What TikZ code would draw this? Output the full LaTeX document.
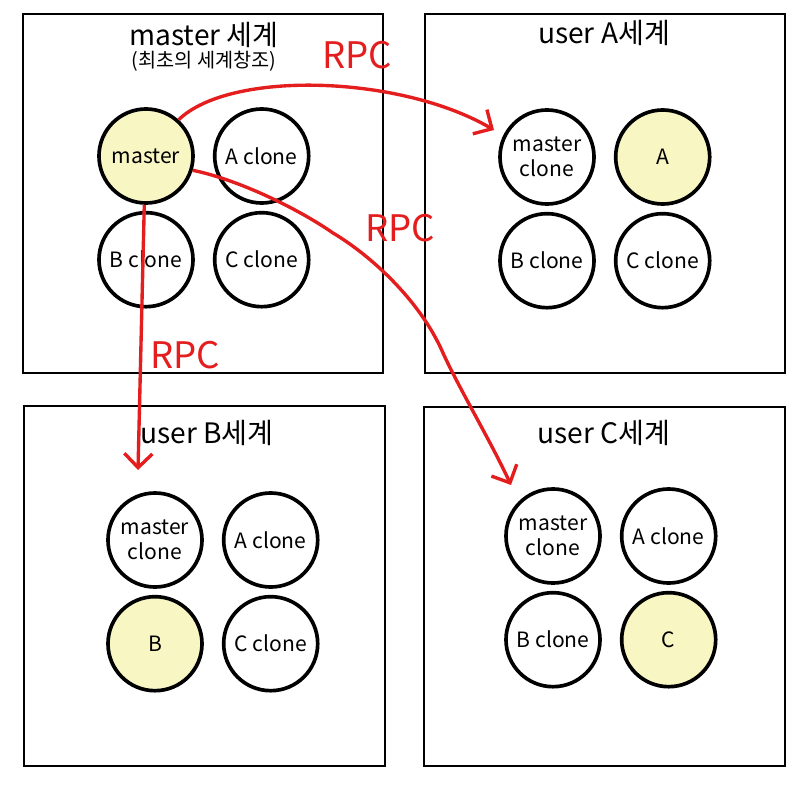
\documentclass[tikz,border=0pt]{standalone}
\usepackage{fontspec}
\setmainfont{Noto Sans CJK KR}
\usepackage{tikz}
\usetikzlibrary{arrows.meta, positioning}
\definecolor{ownfill}{HTML}{F8F6C2}
\definecolor{rpcred}{HTML}{E41E1E}
\tikzstyle{world} = [rectangle, draw=black, line width=1.4pt, minimum width=9cm, minimum height=8.98cm]
\tikzstyle{title} = [font=\fontsize{20}{23}\selectfont]
\tikzstyle{obj} = [circle, draw=black, line width=2.6pt, minimum size=2.35cm, inner sep=0pt, align=center, font=\fontsize{15}{18}\selectfont]
\tikzstyle{own} = [obj, fill=ownfill]
\tikzstyle{rpc} = [draw=rpcred, line width=2.4pt, -{Straight Barb[length=3.5mm, width=7mm, line width=2.4pt]}]
\tikzstyle{rpclabel} = [text=rpcred, font=\fontsize{26}{28}\selectfont]

\begin{document}
\begin{tikzpicture}[x=0.025cm, y=-0.025cm]
  \useasboundingbox (0,0) rectangle (808,788);
  % four worlds
  \node[world] (wm) at (203,193.5) {};
  \node[world] (wa) at (605,193.5) {};
  \node[world] (wb) at (204.5,586) {};
  \node[world] (wc) at (604.5,586.5) {};
  \node[title] (tm) at (204,35) {master 세계};
  \node[font=\fontsize{14}{16}\selectfont] (tm2) at (204,61) {(최초의 세계창조)};
  \node[title] (ta) at (604,33) {user A세계};
  \node[title] (tb) at (207,433) {user B세계};
  \node[title] (tc) at (604,433) {user C세계};

  % master world
  \node[own] (ma) at (146,156) {master};
  \node[obj, right=0.45cm of ma] (mA) {A clone};
  \node[obj, below=0.15cm of ma] (mB) {B clone};
  \node[obj, right=0.45cm of mB] (mC) {C clone};
  % user A world
  \node[obj] (am) at (547,157) {master\\clone};
  \node[own, right=0.45cm of am] (aA) {A};
  \node[obj, below=0.15cm of am] (aB) {B clone};
  \node[obj, right=0.45cm of aB] (aC) {C clone};
  % user B world
  \node[obj] (bm) at (155,540) {master\\clone};
  \node[obj, right=0.45cm of bm] (bA) {A clone};
  \node[own, below=0.15cm of bm] (bB) {B};
  \node[obj, right=0.45cm of bB] (bC) {C clone};
  % user C world
  \node[obj] (cm) at (553,536) {master\\clone};
  \node[obj, right=0.45cm of cm] (cA) {A clone};
  \node[obj, below=0.15cm of cm] (cB) {B clone};
  \node[own, right=0.45cm of cB] (cC) {C};

  % RPC calls
  \coordinate (toA) at (494,130);
  \coordinate (toB) at (138,470);
  \coordinate (toC) at (511,485);
  \draw[rpc] (ma.48) .. controls (230,70) and (400,75) .. (toA);
  \draw[rpc] (ma.-17) .. controls (240,180) and (300,210) .. (333,233)
    .. controls (370,255) and (420,300) .. (443,353)
    .. controls (460,390) and (490,440) .. (toC);
  \draw[rpc] (ma.-92) -- (toB);
  \node[rpclabel] (r1) at (357,55) {RPC};
  \node[rpclabel] (r2) at (400,228) {RPC};
  \node[rpclabel] (r3) at (185,355) {RPC};
\end{tikzpicture}
\end{document}
